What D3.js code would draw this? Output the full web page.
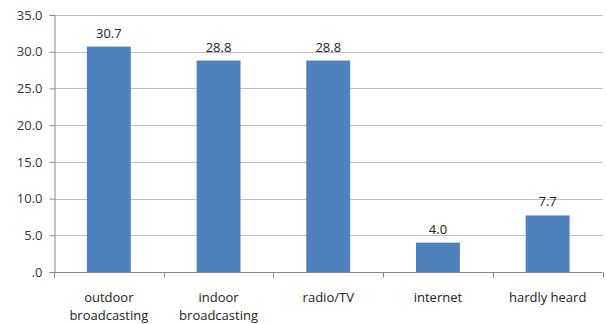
<!DOCTYPE html>
<html>
<head>
<meta charset="utf-8">
<script src="https://cdn.jsdelivr.net/npm/d3@7"></script>
<style>
  html, body { margin: 0; padding: 0; background: #fff; }
  svg text { font-family: "Open Sans", "Liberation Sans", sans-serif; }
</style>
</head>
<body>
<svg id="chart" width="607" height="324"></svg>
<script>
const categories = [["outdoor", "broadcasting"], ["indoor", "broadcasting"], ["radio/TV"], ["internet"], ["hardly heard"]];
const values = [30.7, 28.8, 28.8, 4.0, 7.7];
const yTicks = [0, 5, 10, 15, 20, 25, 30, 35];

const svg = d3.select("#chart");
const margin = { left: 54, right: 4.5, top: 15, bottom: 52 };
const W = 607, H = 324;

const x = d3.scaleBand()
  .domain(d3.range(categories.length))
  .range([margin.left, W - margin.right])
  .paddingInner(0.6)
  .paddingOuter(0.3);

const xOuter = d3.scaleBand()
  .domain(d3.range(categories.length))
  .range([margin.left, W - margin.right]);

const y = d3.scaleLinear().domain([0, 35]).range([H - margin.bottom, margin.top]);

const fmt = v => v === 0 ? ".0" : v.toFixed(1);

// horizontal gridlines
svg.append("g")
  .selectAll("line")
  .data(yTicks.filter(t => t > 0))
  .join("line")
  .attr("x1", margin.left).attr("x2", W - margin.right)
  .attr("y1", d => Math.round(y(d)) + 0.5).attr("y2", d => Math.round(y(d)) + 0.5)
  .attr("stroke", "#bfbfbf").attr("stroke-width", 1);

// y axis
const yAxis = svg.append("g")
  .attr("transform", `translate(${margin.left + 0.5},0)`)
  .call(d3.axisLeft(y).tickValues(yTicks).tickFormat(fmt).tickSize(5).tickPadding(7));
yAxis.select(".domain").attr("stroke", "#868686");
yAxis.selectAll(".tick line").attr("stroke", "#868686");
yAxis.selectAll(".tick text").attr("font-size", 13).attr("fill", "#333")
  .attr("font-family", "'Open Sans', sans-serif");

// bars
svg.append("g")
  .selectAll("rect")
  .data(values)
  .join("rect")
  .attr("x", (d, i) => x(i))
  .attr("width", x.bandwidth())
  .attr("y", d => y(d))
  .attr("height", d => y(0) - y(d))
  .attr("fill", "#4f81bd");

// value labels
svg.append("g")
  .selectAll("text")
  .data(values)
  .join("text")
  .attr("x", (d, i) => x(i) + x.bandwidth() / 2)
  .attr("y", d => y(d) - 9)
  .attr("text-anchor", "middle")
  .attr("font-size", 13)
  .attr("fill", "#222")
  .text(d => d.toFixed(1));

// x axis baseline and separator ticks
const baseY = Math.round(y(0)) + 0.5;
svg.append("line")
  .attr("x1", margin.left).attr("x2", W - margin.right)
  .attr("y1", baseY).attr("y2", baseY)
  .attr("stroke", "#868686");
const sepX = d3.range(categories.length).map(i => xOuter(i)).concat([W - margin.right]);
svg.append("g")
  .selectAll("line")
  .data(sepX)
  .join("line")
  .attr("x1", d => Math.round(d) + 0.5).attr("x2", d => Math.round(d) + 0.5)
  .attr("y1", baseY).attr("y2", baseY + 5)
  .attr("stroke", "#868686");

// category labels
const labels = svg.append("g")
  .selectAll("text")
  .data(categories)
  .join("text")
  .attr("text-anchor", "middle")
  .attr("font-size", 13)
  .attr("fill", "#222")
  .attr("x", (d, i) => xOuter(i) + xOuter.bandwidth() / 2)
  .attr("y", 302);
labels.selectAll("tspan")
  .data(d => d)
  .join("tspan")
  .attr("x", function () { return this.parentNode.getAttribute("x"); })
  .attr("dy", (d, i) => i === 0 ? 0 : 18)
  .text(d => d);
</script>
</body>
</html>
